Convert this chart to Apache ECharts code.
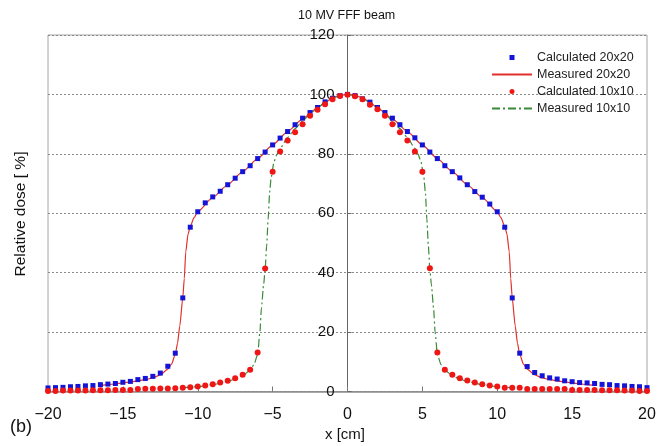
<!DOCTYPE html>
<html>
<head>
<meta charset="utf-8">
<script src="https://cdn.jsdelivr.net/npm/echarts@6/dist/echarts.min.js"></script>
<style>html,body{margin:0;padding:0;background:#fff;}#c{width:667px;height:446px;}</style>
</head>
<body>
<div id="c"></div>
<script>
const titleText = '10 MV FFF beam';
const xName = 'x [cm]';
const yName = 'Relative dose [ %]';
const panelLabel = '(b)';
const seriesNames = ['Calculated 20x20', 'Measured 20x20', 'Calculated 10x10', 'Measured 10x10'];
const xTicks = [-20, -15, -10, -5, 0, 5, 10, 15, 20];
const yTicks = [0, 20, 40, 60, 80, 100, 120];

// calculated profiles (points every 0.5 cm)
const calcX = [-20,-19.5,-19,-18.5,-18,-17.5,-17,-16.5,-16,-15.5,-15,-14.5,-14,-13.5,-13,-12.5,-12,-11.5,-11,-10.5,-10,-9.5,-9,-8.5,-8,-7.5,-7,-6.5,-6,-5.5,-5,-4.5,-4,-3.5,-3,-2.5,-2,-1.5,-1,-0.5,0,
  0.5,1,1.5,2,2.5,3,3.5,4,4.5,5,5.5,6,6.5,7,7.5,8,8.5,9,9.5,10,10.5,11,11.5,12,12.5,13,13.5,14,14.5,15,15.5,16,16.5,17,17.5,18,18.5,19,19.5,20];
const calc20 = [1.2,1.3,1.4,1.6,1.7,1.9,2.0,2.3,2.5,2.7,3.1,3.4,4.0,4.4,5.1,6.2,8.5,12.9,31.5,55.3,60.5,63.5,65.5,67.4,69.6,71.8,74.0,76.0,78.4,80.6,83.0,85.3,87.5,89.8,92.0,93.9,95.6,97.5,98.7,99.6,100,
  99.6,98.5,97.4,95.6,93.9,92.0,89.8,87.5,85.4,83.0,80.6,78.4,76.0,74.0,71.9,69.6,67.3,65.4,63.1,60.5,55.3,31.5,12.9,8.4,6.4,5.3,4.6,4.2,3.6,3.3,3.0,2.9,2.7,2.4,2.3,2.0,1.9,1.7,1.6,1.3];
const calc10 = [0.2,0.2,0.3,0.3,0.3,0.3,0.4,0.4,0.4,0.5,0.5,0.5,0.8,0.9,0.9,1.0,1.0,1.1,1.3,1.4,1.7,2.0,2.4,3.0,3.6,4.5,5.6,7.3,13.1,41.4,74.0,80.8,84.5,87.3,90.0,92.8,94.8,96.7,98.4,99.5,99.9,
  99.4,98.4,96.5,95.0,92.8,90.0,87.3,84.5,80.8,74.0,41.5,13.1,7.3,5.6,4.5,3.7,3.0,2.4,2.0,1.7,1.3,1.3,1.3,0.8,0.8,0.8,0.8,0.8,0.8,0.5,0.5,0.5,0.5,0.4,0.4,0.4,0.3,0.3,0.2,0.2];

// measured profiles
const meas20X = [-16.5,-16,-15.5,-15,-14.5,-14,-13.5,-13,-12.5,-12,-11.75,-11.5,-11.35,-11.2,-11,-10.9,-10.8,-10.65,-10.5,-10.25,-10,-9,-8,-7,-6,-5,-4,-3,-2,-1.5,-1,-0.5,0,
  0.5,1,1.5,2,3,4,5,6,7,8,9,10,10.25,10.5,10.65,10.8,10.9,11,11.2,11.35,11.5,11.75,12,12.5,13,13.5,14,14.5,15,15.5,16,16.5];
const meas20Y = [2.0,2.3,2.6,2.9,3.2,3.6,4.0,4.6,5.6,7.5,9.2,12.5,16.3,22,31.5,38,47,53,55.5,58.5,60.5,65.3,69.6,74,78.4,83,87.5,91.8,95.5,97.3,98.8,99.7,100,
  99.7,98.8,97.3,95.5,91.8,87.5,83,78.4,74,69.6,65.3,60.5,58.5,55.5,53,47,38,31.5,22,16.3,12.5,9.2,7.5,5.6,4.6,4.0,3.6,3.2,2.9,2.6,2.3,2.0];
const meas10X = [-11,-10,-9,-8,-7.5,-7,-6.5,-6.25,-6,-5.85,-5.75,-5.6,-5.5,-5.4,-5.3,-5.2,-5.1,-4.9,-4.7,-4.5,-4,-3.5,-3,-2.5,-2,-1.5,-1,-0.5,0,
  0.5,1,1.5,2,2.5,3,3.5,4,4.5,4.7,4.9,5.1,5.2,5.3,5.4,5.5,5.6,5.75,5.85,6,6.25,6.5,7,7.5,8,9,10,11];
const meas10Y = [1.2,1.6,2.3,3.4,4.2,5.3,7.2,9.0,12.5,20,28,36,41,49,58,67,72,77.5,80,81.8,85.5,88.5,91,93.5,95.5,97.3,98.8,99.7,100,
  99.7,98.8,97.3,95.5,93.5,91,88.5,85.5,81.8,80,77.5,72,67,58,49,41,36,28,20,12.5,9.0,7.2,5.3,4.2,3.4,2.3,1.6,1.2];

const zip = (xs, ys) => xs.map((x, i) => [x, ys[i]]);
const FONT = 'Liberation Sans, Arial, sans-serif';
const minus = v => String(v).replace('-', '\u2212');
const noSym = {color: 'rgba(0,0,0,0)', borderWidth: 0, opacity: 0};

const chart = echarts.init(document.getElementById('c'), null, {renderer: 'canvas'});
chart.setOption({
  backgroundColor: '#fff',
  animation: false,
  textStyle: {fontFamily: FONT},
  grid: {left: 48, right: 20, top: 35, bottom: 54.5, show: true, borderColor: '#a6a6a6', borderWidth: 1, backgroundColor: 'transparent'},
  legend: {
    orient: 'vertical', left: 486, top: 46, itemWidth: 40, itemHeight: 5, itemGap: 4, symbolKeepAspect: true,
    data: [
      {name: seriesNames[0], icon: 'path://M0,0L10,0L10,10L0,10Z'},
      {name: seriesNames[1], itemStyle: noSym},
      {name: seriesNames[2], icon: 'circle'},
      {name: seriesNames[3], itemStyle: noSym}
    ],
    textStyle: {fontSize: 12.5, color: '#222', fontFamily: FONT}
  },
  xAxis: {
    type: 'value', min: xTicks[0], max: xTicks[xTicks.length - 1], interval: 5,
    axisLine: {onZero: false, lineStyle: {color: '#8c8c8c', width: 1.5}},
    axisTick: {inside: true, length: 5, lineStyle: {color: '#777'}},
    axisLabel: {fontSize: 16, color: '#111', margin: 15, formatter: v => minus(v), fontFamily: FONT},
    splitLine: {show: false}
  },
  yAxis: {
    type: 'value', min: yTicks[0], max: yTicks[yTicks.length - 1], interval: 20,
    position: 'left', offset: -299.5,
    axisLine: {show: true, onZero: false, lineStyle: {color: '#666', width: 1}},
    axisTick: {show: true, inside: true, length: 4, lineStyle: {color: '#666'}},
    axisLabel: {fontSize: 15, color: '#111', margin: 13, fontFamily: FONT},
    splitLine: {show: true, lineStyle: {type: [2, 2], color: '#8a8a8a', width: 1}}
  },
  graphic: [
    {type: 'text', left: 298, top: 9, style: {text: titleText, fontSize: 12.5, fill: '#111', fontFamily: FONT}},
    {type: 'text', left: 325, top: 427, style: {text: xName, fontSize: 15, fill: '#111', fontFamily: FONT}},
    {type: 'text', left: 10, top: 418, style: {text: panelLabel, fontSize: 18, fill: '#111', fontFamily: FONT}},
    {type: 'text', x: 21, y: 214, rotation: Math.PI / 2,
     style: {text: yName, fontSize: 15.5, fill: '#111', fontFamily: FONT, align: 'center', verticalAlign: 'middle', textAlign: 'center', textVerticalAlign: 'middle'}}
  ],
  series: [
    {name: seriesNames[0], type: 'scatter', data: zip(calcX, calc20), symbol: 'square', symbolSize: 5,
     itemStyle: {color: '#1414d8', opacity: 1}, z: 4},
    {name: seriesNames[1], type: 'line', data: zip(meas20X, meas20Y), symbol: 'none', smooth: 0.2, smoothMonotone: 'x',
     lineStyle: {color: '#e2302a', width: 1.2}, itemStyle: {color: '#e2302a'}, z: 3},
    {name: seriesNames[2], type: 'scatter', data: zip(calcX, calc10), symbol: 'circle', symbolSize: 6,
     itemStyle: {color: '#f01616', opacity: 1}, z: 5},
    {name: seriesNames[3], type: 'line', data: zip(meas10X, meas10Y), symbol: 'none', smooth: 0.2, smoothMonotone: 'x',
     lineStyle: {color: '#3a8a3a', width: 1.2, type: [8, 3, 2, 3]}, itemStyle: {color: '#3a8a3a'}, z: 3}
  ]
});
</script>
</body>
</html>
